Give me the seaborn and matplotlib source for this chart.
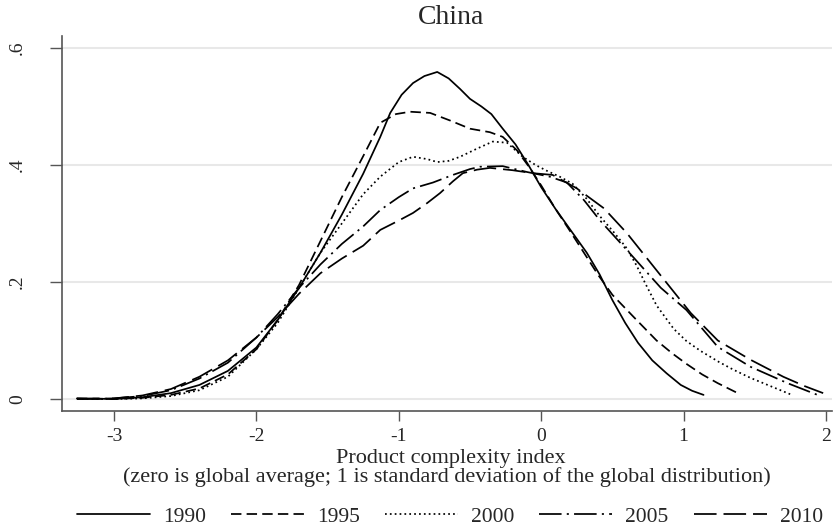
import pandas as pd
import seaborn as sns
import matplotlib.pyplot as plt

# kernel density of product complexity, China, by year
years = ['1990', '1995', '2000', '2005', '2010']

x1990 = [-3.26, -3.0, -2.8, -2.6, -2.4, -2.2, -2.0, -1.85, -1.7, -1.55, -1.4, -1.25, -1.13, -1.06, -0.98,
         -0.9, -0.82, -0.73, -0.65, -0.57, -0.5, -0.42, -0.35, -0.27, -0.18, -0.09, 0.0, 0.1, 0.22, 0.32,
         0.41, 0.5, 0.59, 0.68, 0.78, 0.88, 0.98, 1.06, 1.14]
y1990 = [0.001, 0.0, 0.003, 0.010, 0.024, 0.048, 0.088, 0.135, 0.190, 0.250, 0.315, 0.385, 0.448, 0.489, 0.520,
         0.540, 0.552, 0.559, 0.548, 0.530, 0.513, 0.500, 0.487, 0.462, 0.435, 0.400, 0.362, 0.325, 0.284, 0.250,
         0.213, 0.169, 0.130, 0.096, 0.066, 0.044, 0.024, 0.014, 0.007]

x1995 = [-3.26, -3.0, -2.8, -2.6, -2.4, -2.2, -2.0, -1.85, -1.7, -1.55, -1.4, -1.25, -1.13, -1.02, -0.92,
         -0.78, -0.64, -0.5, -0.36, -0.27, -0.17, -0.08, 0.0, 0.1, 0.2, 0.3, 0.4, 0.5, 0.65, 0.81, 0.92,
         1.02, 1.13, 1.24, 1.38]
y1995 = [0.001, 0.0, 0.002, 0.007, 0.018, 0.042, 0.085, 0.135, 0.195, 0.270, 0.345, 0.415, 0.472, 0.487, 0.491,
         0.489, 0.476, 0.462, 0.456, 0.448, 0.425, 0.395, 0.365, 0.325, 0.288, 0.250, 0.212, 0.178, 0.140, 0.100,
         0.078, 0.060, 0.042, 0.027, 0.010]

x2000 = [-3.26, -3.0, -2.8, -2.6, -2.4, -2.2, -2.0, -1.85, -1.7, -1.55, -1.4, -1.25, -1.13, -1.0, -0.9,
         -0.8, -0.73, -0.65, -0.57, -0.45, -0.34, -0.24, -0.13, -0.04, 0.04, 0.13, 0.22, 0.32, 0.41, 0.51,
         0.6, 0.67, 0.73, 0.81, 0.93, 1.02, 1.12, 1.25, 1.35, 1.47, 1.59, 1.75]
y2000 = [0.0, 0.0, 0.001, 0.005, 0.015, 0.038, 0.085, 0.130, 0.190, 0.250, 0.300, 0.350, 0.380, 0.405, 0.414,
         0.410, 0.405, 0.407, 0.414, 0.428, 0.440, 0.438, 0.414, 0.400, 0.390, 0.380, 0.368, 0.342, 0.313, 0.285,
         0.258, 0.228, 0.198, 0.160, 0.120, 0.099, 0.082, 0.063, 0.050, 0.036, 0.024, 0.008]

x2005 = [-3.26, -3.0, -2.8, -2.6, -2.4, -2.2, -2.0, -1.85, -1.7, -1.55, -1.4, -1.25, -1.13, -1.0, -0.9,
         -0.76, -0.62, -0.5, -0.43, -0.27, -0.1, 0.06, 0.18, 0.3, 0.41, 0.6, 0.84, 1.02, 1.24, 1.47, 1.73, 1.94]
y2005 = [0.0, 0.001, 0.005, 0.015, 0.035, 0.062, 0.105, 0.145, 0.190, 0.230, 0.265, 0.295, 0.323, 0.345, 0.360,
         0.370, 0.383, 0.393, 0.397, 0.398, 0.388, 0.380, 0.370, 0.340, 0.306, 0.255, 0.190, 0.152, 0.089, 0.055,
         0.027, 0.007]

x2010 = [-3.26, -3.0, -2.8, -2.6, -2.4, -2.2, -2.0, -1.85, -1.7, -1.55, -1.4, -1.25, -1.13, -1.0, -0.9,
         -0.8, -0.71, -0.62, -0.55, -0.45, -0.36, -0.2, -0.06, 0.08, 0.25, 0.44, 0.6, 0.81, 1.05, 1.24, 1.47,
         1.7, 1.85, 1.98]
y2010 = [0.0, 0.001, 0.006, 0.017, 0.038, 0.066, 0.105, 0.140, 0.180, 0.215, 0.240, 0.262, 0.289, 0.305, 0.318,
         0.335, 0.352, 0.372, 0.386, 0.392, 0.395, 0.391, 0.386, 0.383, 0.360, 0.326, 0.284, 0.220, 0.147, 0.100,
         0.067, 0.038, 0.022, 0.010]

xs_all = [x1990, x1995, x2000, x2005, x2010]
ys_all = [y1990, y1995, y2000, y2005, y2010]
frames = []
for yr, xs, ys in zip(years, xs_all, ys_all):
    frames.append(pd.DataFrame({'pci': xs, 'density': ys, 'year': yr}))
df = pd.concat(frames, ignore_index=True)

sns.set_theme(style='ticks')
plt.rcParams['font.family'] = ['Liberation Serif', 'DejaVu Serif']

fig, ax = plt.subplots(figsize=(8.33, 5.29), dpi=100)
fig.subplots_adjust(left=0.0744, right=0.9988, bottom=0.2231, top=0.932)

dashes = {'1990': '', '1995': (6, 3), '2000': (1, 1.8), '2005': (13, 3, 1.2, 3), '2010': (13, 4)}
sns.lineplot(data=df, x='pci', y='density', style='year', style_order=years, dashes=dashes,
             color='black', lw=1.25, estimator=None, legend=False, ax=ax)

ax.set_xlim(-3.365, 2.042)
ax.set_ylim(-0.0205, 0.6205)
ax.set_xticks([-3, -2, -1, 0, 1, 2])
ax.set_xticklabels(['-3', '-2', '-1', '0', '1', '2'], fontsize=14)
ax.set_yticks([0, 0.2, 0.4, 0.6])
ax.set_yticklabels(['0', '.2', '.4', '.6'], fontsize=14, rotation=90, va='center')
ax.tick_params(axis='x', length=7, width=1, pad=5, color='#555555')
ax.tick_params(axis='y', length=9, width=1, pad=17, color='#555555')
ax.set_xlabel('')
ax.set_ylabel('')
ax.yaxis.grid(True, color='#e8e8e8', lw=1.5)
ax.set_axisbelow(True)
sns.despine(ax=ax)
for s in ['left', 'bottom']:
    ax.spines[s].set_color('#555555')
    ax.spines[s].set_linewidth(1.2)

fig.text(0.541, 0.966, 'China', ha='center', va='center', fontsize=20)
fig.text(0.541, 0.1342, 'Product complexity index', ha='center', va='center', fontsize=16)
fig.text(0.537, 0.0985, '(zero is global average; 1 is standard deviation of the global distribution)',
         ha='center', va='center', fontsize=16)

handles = ax.lines[:5]
fig.legend(handles, years, ncol=5, loc='center', bbox_to_anchor=(0.54, 0.0227), frameon=False,
           handlelength=3.4, handletextpad=0.6, columnspacing=1.16, fontsize=15.5)

plt.savefig('out.png', dpi=100)
